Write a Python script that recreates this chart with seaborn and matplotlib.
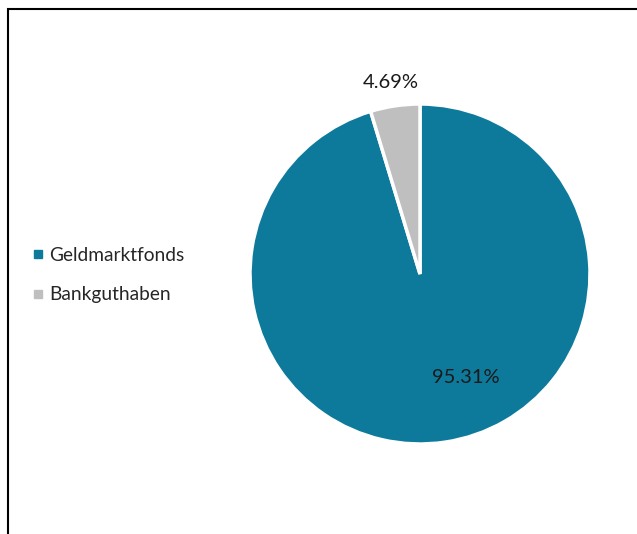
import matplotlib
matplotlib.use("Agg")
import matplotlib.pyplot as plt
from matplotlib.lines import Line2D
from matplotlib.patches import Rectangle
import seaborn as sns

categories = ['Geldmarktfonds', 'Bankguthaben']
shares = [95.31, 4.69]
pct_labels = ['95.31%', '4.69%']

sns.set_style("white")
plt.rcParams['font.family'] = ['Lato', 'DejaVu Sans']
colors = sns.color_palette(['#0e7a9b', '#bfbfbf'])

W, H = 637, 534
fig = plt.figure(figsize=(W / 100, H / 100), dpi=100)

# pie centre (420, 274) px, radius 170 px
cx, cy, r = 420, 274, 170
ax = fig.add_axes([(cx - r) / W, (H - cy - r) / H, 2 * r / W, 2 * r / H])

wedges, _ = ax.pie(shares, colors=colors, startangle=90, counterclock=False,
                   wedgeprops=dict(edgecolor='white', linewidth=2.5))
ax.set_xlim(-1, 1)
ax.set_ylim(-1, 1)
ax.set_aspect('equal')
ax.axis('off')

# data labels, placed like the original
ax.text(0.27, -0.61, pct_labels[0], ha='center', va='center', fontsize=14.5, color='#1a1a1a')
ax.text(-0.17, 1.125, pct_labels[1], ha='center', va='center', fontsize=14.5, color='#1a1a1a')

handles = [Line2D([], [], marker='s', linestyle='none', markersize=6,
                  markerfacecolor=c, markeredgecolor=c) for c in colors]
fig.legend(handles, categories, loc='center left', bbox_to_anchor=(33 / W, 1 - 275 / H),
           frameon=False, fontsize=13.8, handlelength=0.5, handletextpad=0.35,
           labelspacing=1.18, borderpad=0, borderaxespad=0)

# chart frame (open on the right and bottom edges)
fig.patches.append(Rectangle((7.5 / W, -0.05), 1.1, 1 - 8.5 / H + 0.05,
                             transform=fig.transFigure, fill=False,
                             edgecolor='black', linewidth=1.5))

fig.savefig('out.png', dpi=100)
